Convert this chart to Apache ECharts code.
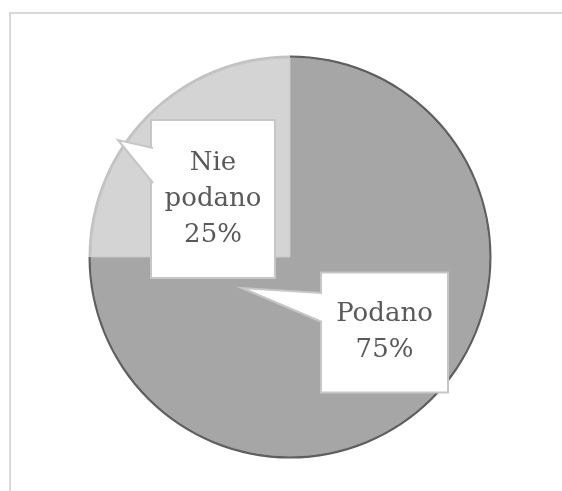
<!DOCTYPE html>
<html>
<head>
<meta charset="utf-8">
<script src="https://cdn.jsdelivr.net/npm/echarts@6/dist/echarts.min.js"></script>
<style>
  html, body { margin: 0; padding: 0; background: #fff; }
  #chart { width: 562px; height: 491px; }
</style>
</head>
<body>
<div id="chart"></div>
<script>
// dane
const categories = ['Podano', 'Nie podano'];
const values = [75, 25];
const sliceColors = ['#a6a6a6', '#d4d4d4'];
const rimColors = ['#5f5f5f', '#c2c2c2'];

// pozycje etykiet (środki ramek) i dziobki
const labelBoxes = [
  { cx: 384.5, cy: 332.5, w: 125, pad: 23 },
  { cx: 213, cy: 199, w: 122, pad: 24 }
];
const pointers = [
  [[242, 288], [322, 293], [322, 322]],
  [[118, 140], [153, 148], [153, 183]]
];

const chart = echarts.init(document.getElementById('chart'));

const pointerGraphics = [];
pointers.forEach(function (p) {
  pointerGraphics.push({
    type: 'polygon', z: 100,
    shape: { points: [p[0], [p[1][0] + 1, p[1][1]], [p[2][0] + 1, p[2][1]]] },
    style: { fill: '#fff', stroke: null }
  });
  pointerGraphics.push({
    type: 'polyline', z: 101,
    shape: { points: [p[1], p[0], p[2]] },
    style: { fill: null, stroke: '#c6c6c6', lineWidth: 2 }
  });
});

const option = {
  animation: false,
  graphic: [
    {
      type: 'rect', z: -10,
      shape: { x: 10, y: 13, width: 620, height: 600 },
      style: { fill: null, stroke: '#d9d9d9', lineWidth: 2 }
    }
  ].concat(pointerGraphics),
  series: [
    {
      type: 'pie',
      center: [290, 257],
      radius: 199,
      startAngle: 90,
      clockwise: true,
      silent: true,
      z: 3,
      labelLine: { show: false },
      data: categories.map(function (c, i) {
        return {
          name: c,
          value: values[i],
          itemStyle: {
            color: sliceColors[i],
            borderColor: i === 1 ? '#c8c8c8' : sliceColors[i],
            borderWidth: 1
          },
          label: {
            width: labelBoxes[i].w,
            padding: [labelBoxes[i].pad, 0]
          }
        };
      }),
      label: {
        show: true,
        formatter: function (p) {
          return p.name.replace(' ', '\n') + '\n' + Math.round(p.percent) + '%';
        },
        fontFamily: 'DejaVu Serif',
        fontSize: 26,
        lineHeight: 36,
        color: '#595959',
        align: 'center',
        backgroundColor: '#fff',
        borderColor: '#c6c6c6',
        borderWidth: 2
      },
      labelLayout: function (params) {
        const b = labelBoxes[params.dataIndex];
        return { x: b.cx, y: b.cy, align: 'center', verticalAlign: 'middle' };
      }
    },
    {
      // krawędź zewnętrzna
      type: 'pie',
      center: [290, 257],
      radius: [196, 201.5],
      startAngle: 90,
      clockwise: true,
      silent: true,
      z: 2,
      label: { show: false },
      labelLine: { show: false },
      data: categories.map(function (c, i) {
        return {
          name: c,
          value: values[i],
          itemStyle: { color: rimColors[i], borderWidth: 0 }
        };
      })
    }
  ]
};

chart.setOption(option);
</script>
</body>
</html>
